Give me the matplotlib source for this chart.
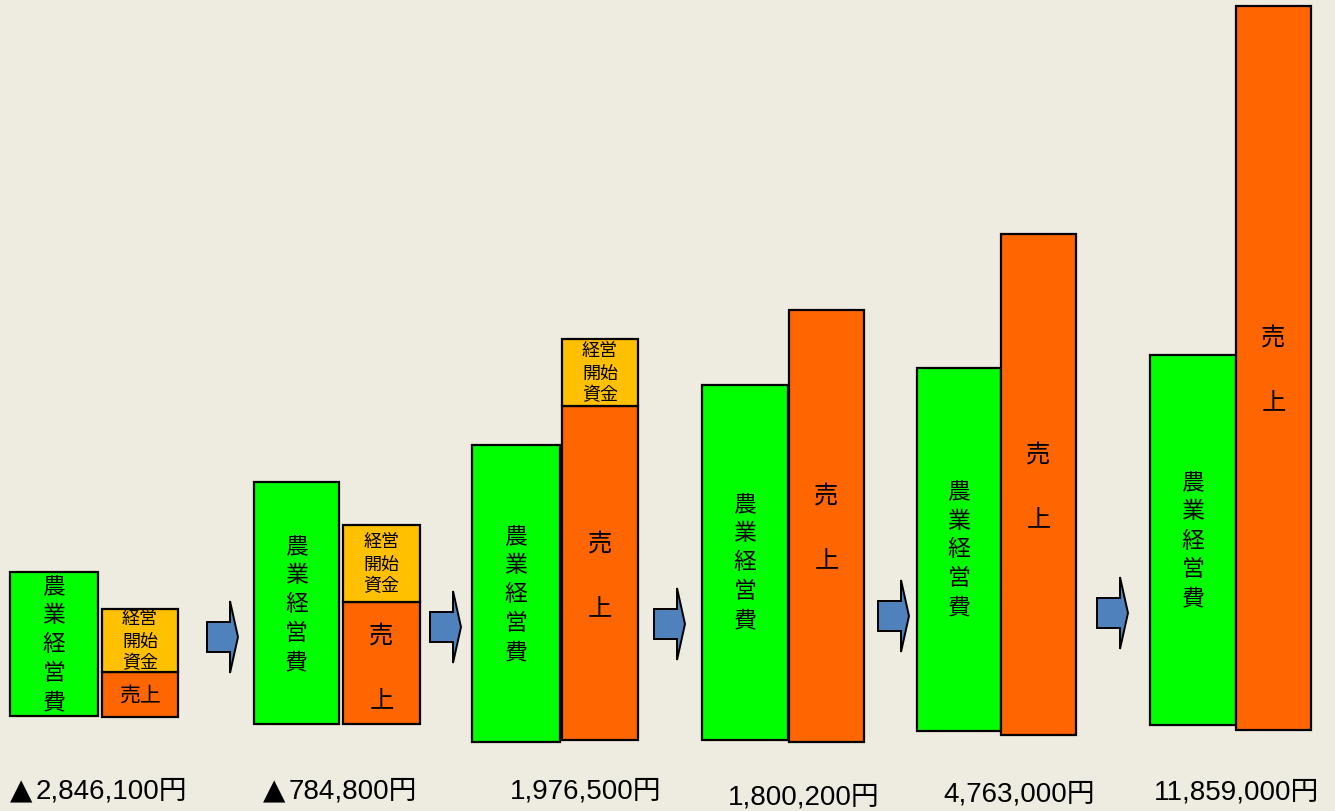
import matplotlib
matplotlib.use("Agg")
import matplotlib.pyplot as plt
from matplotlib.patches import FancyArrow

# --- data (pixel-scale units, y measured upward from the bottom) ---
years = [1, 2, 3, 4, 5, 6]
profit = [-2846100, -784800, 1976500, 1800200, 4763000, 11859000]

cost_height = [144, 242, 297, 355, 363, 370]      # 農業経営費
sales_height = [45, 122, 334, 432, 501, 724]      # 売上
fund_height = [63, 77, 67, 0, 0, 0]               # 経営開始資金

# --- layout ---
cost_left = [10, 254, 472, 702, 917, 1150]
cost_width = [88, 85, 88, 86, 84, 86]
cost_bottom = [95, 87, 69, 71, 80, 86]
sales_left = [102, 343, 562, 789, 1001, 1236]
sales_width = [76, 77, 76, 75, 75, 75]
sales_bottom = [94, 87, 71, 69, 76, 81]
arrow_x = [207, 430, 654, 878, 1097]
arrow_y = [174, 184, 187, 195, 198]
label_x = [10, 263, 510, 728, 943, 1154]
label_y = [20, 20, 20, 14, 17, 19]

bg = "#EEEBE1"
green = "#00FF00"
orange = "#FF6600"
yellow = "#FFC000"
blue = "#4F81BD"
cjk = ["Noto Sans CJK JP", "DejaVu Sans"]
num_font = ["Liberation Sans", "Noto Sans CJK JP"]

fig = plt.figure(figsize=(13.35, 8.12), dpi=100)
fig.patch.set_facecolor(bg)
ax = fig.add_axes([0, 0, 1, 1])
ax.set_facecolor(bg)
ax.set_xlim(0, 1335)
ax.set_ylim(0, 812)
ax.axis("off")

# boxes
ax.bar(cost_left, cost_height, width=cost_width, bottom=cost_bottom, align="edge",
       color=green, edgecolor="black", linewidth=1.6, zorder=2)
ax.bar(sales_left, sales_height, width=sales_width, bottom=sales_bottom, align="edge",
       color=orange, edgecolor="black", linewidth=1.6, zorder=2)
fund_bottom = [b + h for b, h in zip(sales_bottom, sales_height)]
for i in range(len(years)):
    if fund_height[i] > 0:
        ax.bar(sales_left[i], fund_height[i], width=sales_width[i], bottom=fund_bottom[i],
               align="edge", color=yellow, edgecolor="black", linewidth=1.6, zorder=2)

# arrows
for x, y in zip(arrow_x, arrow_y):
    ax.add_patch(FancyArrow(x, y, 31, 0, width=30, head_width=72, head_length=8,
                            length_includes_head=True, facecolor=blue,
                            edgecolor="black", linewidth=1.4, zorder=3))

# box texts
cost_text_y = [167, 207, 217, 249, 262, 271]
for i in range(len(years)):
    cx = cost_left[i] + cost_width[i] / 2
    for k, ch in enumerate("農業経営費"):
        ax.text(cx, cost_text_y[i] + (2 - k) * 29, ch, ha="center", va="center",
                fontsize=16.5, family=cjk, zorder=4)

# 売上
ax.text(sales_left[0] + sales_width[0] / 2, 115, "売上", ha="center", va="center",
        fontsize=15, family=cjk, zorder=4)
sales_text_y = [0, 175, 267, 315, 356, 473]
for i in range(1, len(years)):
    sx = sales_left[i] + sales_width[i] / 2
    ax.text(sx, sales_text_y[i], "売", ha="center", va="center", fontsize=17.5,
            family=cjk, zorder=4)
    ax.text(sx, sales_text_y[i] - 63, "上", ha="center", va="center", fontsize=17.5,
            family=cjk, zorder=4)

# 経営開始資金
for i in range(len(years)):
    if fund_height[i] > 0:
        fx = sales_left[i] + sales_width[i] / 2
        fy = fund_bottom[i] + fund_height[i] / 2
        for k, line in enumerate(["経営", "開始", "資金"]):
            ax.text(fx, fy + (1 - k) * 22, line, ha="center", va="center",
                    fontsize=13, family=cjk, zorder=4)

# profit labels
for i, v in enumerate(profit):
    x0 = label_x[i]
    if v < 0:
        ax.text(x0, label_y[i] + 1, "▲", ha="left", va="center", fontsize=21,
                family=["DejaVu Sans"])
        x0 += 26
    ax.text(x0, label_y[i], f"{abs(v):,}円", ha="left", va="center", fontsize=20,
            family=num_font)

fig.savefig("out.png", dpi=100, facecolor=bg)
